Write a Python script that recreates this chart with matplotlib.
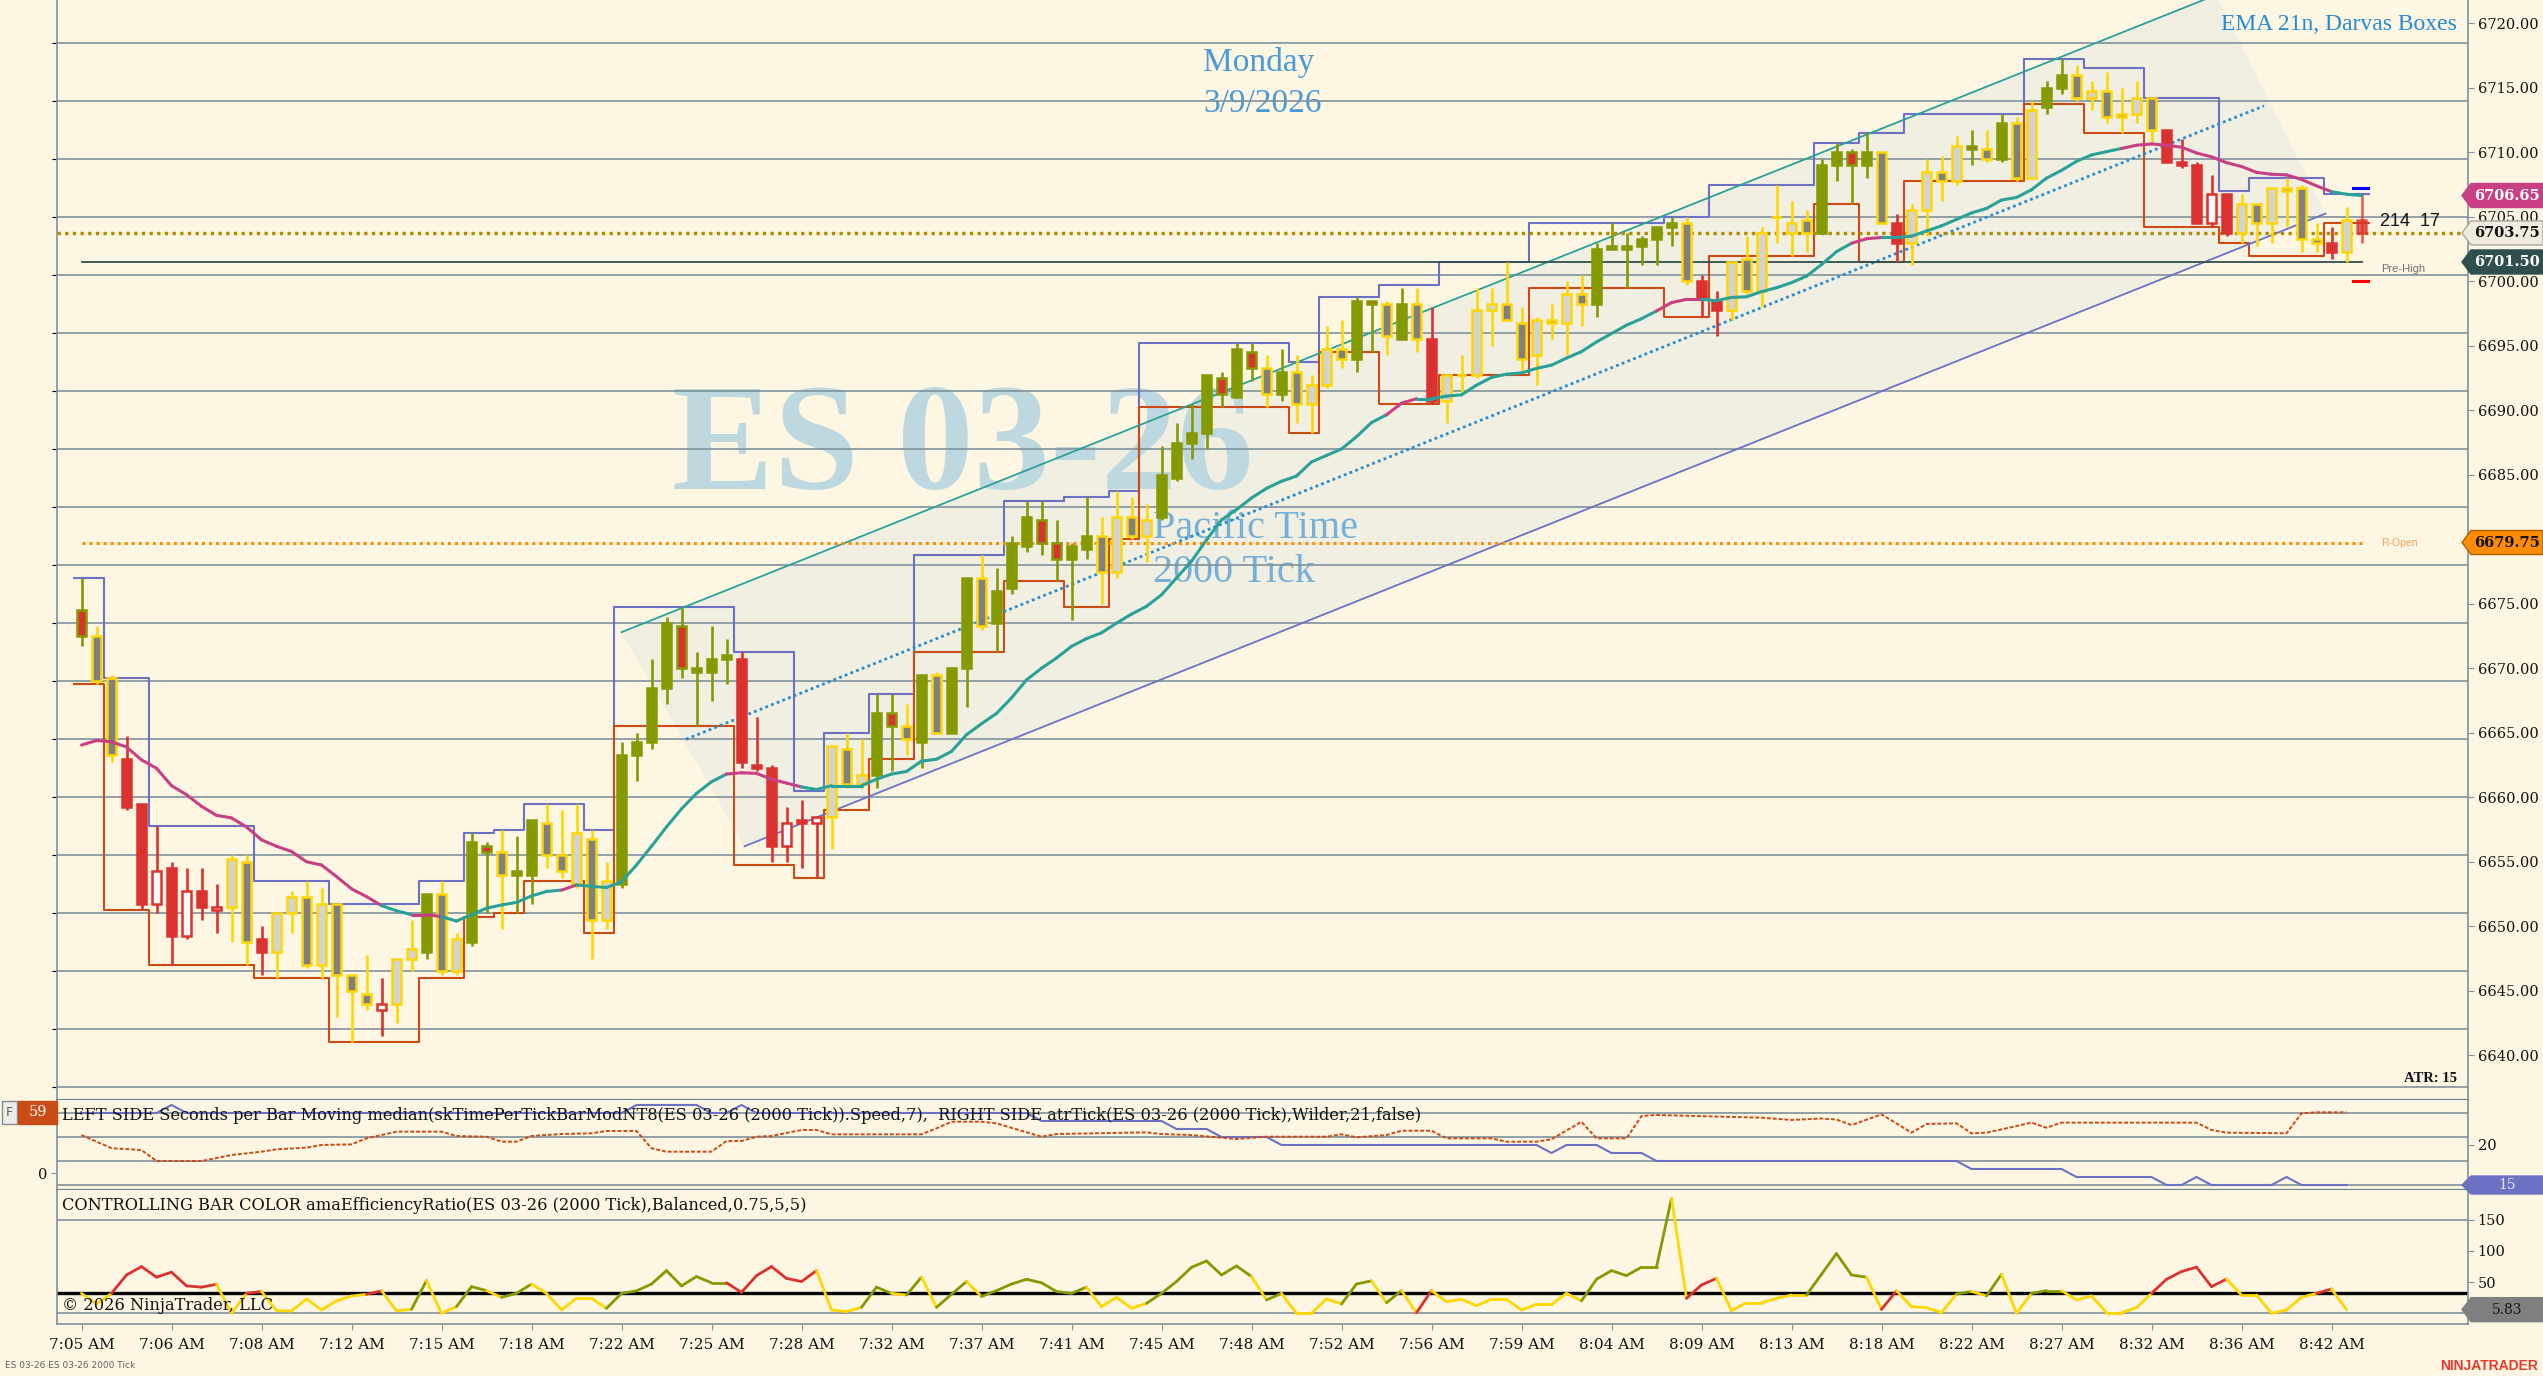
import matplotlib
matplotlib.use('Agg')
import matplotlib.pyplot as plt
import matplotlib.transforms as mtransforms
from matplotlib.patches import Rectangle, Polygon
from matplotlib.collections import LineCollection
from matplotlib.ticker import MultipleLocator

plt.rcParams['font.family'] = ['DejaVu Serif', 'DejaVu Sans']

# ---------------------------------------------------------------- data
time_labels = ['7:05 AM', '7:06 AM', '7:08 AM', '7:12 AM', '7:15 AM', '7:18 AM', '7:22 AM',
               '7:25 AM', '7:28 AM', '7:32 AM', '7:37 AM', '7:41 AM', '7:45 AM', '7:48 AM',
               '7:52 AM', '7:56 AM', '7:59 AM', '8:04 AM', '8:09 AM', '8:13 AM', '8:18 AM',
               '8:22 AM', '8:27 AM', '8:32 AM', '8:36 AM', '8:42 AM']
time_label_bars = [0, 6, 12, 18, 24, 30, 36, 42, 48, 54, 60, 66, 72, 78, 84, 90, 96, 102,
                   108, 114, 120, 126, 132, 138, 144, 150]

opens = [6674.5, 6672.5, 6669.25, 6663.0, 6659.5, 6651.75, 6654.5, 6649.25, 6652.75, 6651.25,
         6651.5, 6655.0, 6649.0, 6648.0, 6651.0, 6652.25, 6647.0, 6651.75, 6646.25, 6644.75,
         6643.5, 6644.0, 6647.5, 6648.0, 6652.5, 6646.5, 6648.75, 6656.25, 6655.75, 6654.0,
         6654.0, 6658.0, 6655.5, 6653.25, 6656.75, 6650.5, 6653.25, 6663.25, 6664.25, 6668.5,
         6673.25, 6669.75, 6669.75, 6670.75, 6670.75, 6662.5, 6662.25, 6656.25, 6658.25, 6658.0,
         6658.5, 6663.75, 6661.0, 6661.75, 6666.5, 6665.5, 6664.25, 6669.5, 6665.0, 6670.0,
         6677.0, 6673.5, 6676.25, 6679.5, 6681.5, 6679.75, 6678.5, 6679.25, 6680.25, 6677.5,
         6681.75, 6680.25, 6681.75, 6684.75, 6687.5, 6688.25, 6692.5, 6691.0, 6694.5, 6693.25,
         6691.25, 6693.0, 6690.5, 6692.0, 6694.75, 6694.0, 6698.5, 6698.25, 6695.5, 6698.25,
         6695.5, 6690.75, 6692.75, 6692.75, 6697.75, 6698.25, 6696.75, 6694.25, 6697.0, 6696.75,
         6699.0, 6698.25, 6702.5, 6702.5, 6702.75, 6703.25, 6704.25, 6704.5, 6700.0, 6698.5,
         6697.75, 6701.75, 6699.25, 6705.0, 6703.75, 6704.75, 6703.75, 6709.0, 6710.0, 6709.0,
         6710.0, 6704.5, 6703.0, 6705.5, 6708.5, 6707.75, 6710.5, 6710.25, 6709.5, 6712.25,
         6708.0, 6713.5, 6715.0, 6716.0, 6714.25, 6714.75, 6713.0, 6713.0, 6714.25, 6711.75,
         6709.25, 6709.0, 6704.5, 6706.75, 6703.75, 6706.0, 6704.5, 6707.25, 6707.25, 6703.25,
         6703.0, 6702.25, 6704.75]
highs = [6677.0, 6673.25, 6669.5, 6664.75, 6659.5, 6657.75, 6655.0, 6654.5, 6654.5, 6653.25,
         6655.5, 6655.5, 6650.0, 6651.0, 6652.75, 6653.5, 6653.0, 6651.75, 6646.25, 6647.75,
         6646.0, 6647.5, 6650.5, 6652.5, 6653.5, 6649.5, 6657.25, 6656.5, 6657.5, 6657.0,
         6658.25, 6659.5, 6659.0, 6659.5, 6657.5, 6655.0, 6664.25, 6665.0, 6670.75, 6674.0,
         6674.75, 6671.25, 6673.25, 6672.25, 6671.25, 6666.25, 6662.5, 6659.25, 6659.75, 6658.5,
         6664.0, 6665.0, 6664.5, 6668.0, 6668.0, 6667.25, 6669.5, 6669.75, 6670.0, 6677.0,
         6678.75, 6677.75, 6680.25, 6683.0, 6683.0, 6681.5, 6679.75, 6683.25, 6681.75, 6683.75,
         6683.25, 6682.75, 6687.25, 6689.0, 6690.5, 6692.75, 6693.0, 6695.25, 6695.25, 6694.25,
         6694.75, 6694.25, 6692.75, 6696.5, 6697.0, 6698.75, 6698.5, 6698.5, 6699.5, 6699.5,
         6698.0, 6692.75, 6694.25, 6699.5, 6699.5, 6701.5, 6698.0, 6697.25, 6698.25, 6700.0,
         6700.5, 6703.0, 6704.5, 6703.75, 6703.5, 6704.25, 6705.0, 6705.0, 6700.5, 6699.25,
         6701.5, 6703.5, 6704.25, 6707.5, 6706.25, 6705.5, 6709.5, 6710.75, 6710.25, 6711.5,
         6710.0, 6705.25, 6706.0, 6709.5, 6709.75, 6711.25, 6711.75, 6711.75, 6713.0, 6712.75,
         6714.0, 6715.5, 6717.25, 6716.75, 6715.5, 6716.25, 6715.0, 6715.5, 6714.25, 6711.75,
         6711.0, 6709.25, 6708.25, 6706.75, 6706.75, 6706.0, 6707.25, 6708.0, 6707.5, 6704.5,
         6704.25, 6705.75, 6706.75]
lows = [6671.75, 6668.75, 6662.75, 6659.0, 6651.25, 6651.0, 6647.0, 6649.0, 6650.5, 6649.5,
        6648.75, 6647.0, 6646.25, 6646.0, 6649.5, 6646.75, 6646.0, 6643.0, 6641.0, 6643.5,
        6641.5, 6642.5, 6646.5, 6647.5, 6646.25, 6646.25, 6648.5, 6651.0, 6649.75, 6651.0,
        6651.75, 6654.5, 6653.75, 6653.0, 6647.5, 6649.75, 6653.0, 6661.25, 6663.75, 6667.25,
        6669.25, 6665.5, 6667.5, 6668.75, 6662.25, 6662.0, 6655.0, 6655.0, 6654.5, 6653.75,
        6656.0, 6660.75, 6660.75, 6660.75, 6662.0, 6663.25, 6662.25, 6665.0, 6665.0, 6667.0,
        6673.0, 6671.25, 6675.75, 6679.0, 6678.75, 6676.75, 6673.75, 6678.5, 6675.0, 6677.0,
        6680.0, 6678.25, 6681.5, 6684.5, 6686.25, 6687.0, 6690.25, 6691.0, 6692.25, 6690.25,
        6690.75, 6689.0, 6688.25, 6691.75, 6693.25, 6693.0, 6694.5, 6694.25, 6695.5, 6694.5,
        6690.5, 6689.0, 6691.25, 6692.5, 6695.0, 6697.0, 6693.0, 6692.0, 6695.5, 6694.25,
        6696.5, 6697.25, 6702.5, 6699.5, 6701.25, 6701.25, 6702.75, 6699.75, 6697.25, 6695.75,
        6697.0, 6699.0, 6698.0, 6703.0, 6702.0, 6702.25, 6703.75, 6707.75, 6706.0, 6708.0,
        6704.5, 6701.5, 6701.25, 6703.5, 6706.25, 6707.5, 6709.0, 6709.25, 6709.25, 6707.75,
        6708.0, 6713.0, 6714.5, 6714.0, 6713.25, 6712.25, 6711.5, 6712.25, 6710.75, 6709.25,
        6708.75, 6704.5, 6704.25, 6703.5, 6703.0, 6702.75, 6703.0, 6704.25, 6702.25, 6702.25,
        6701.75, 6701.5, 6703.0]
closes = [6672.5, 6669.0, 6663.25, 6659.25, 6651.75, 6654.25, 6649.25, 6652.75, 6651.5, 6651.5,
          6655.25, 6648.75, 6648.0, 6651.0, 6652.25, 6647.0, 6651.75, 6646.25, 6645.0, 6644.0,
          6644.0, 6647.5, 6648.25, 6652.5, 6646.5, 6649.0, 6656.5, 6655.75, 6654.0, 6654.25,
          6658.25, 6655.5, 6654.25, 6657.25, 6650.5, 6653.5, 6663.25, 6664.25, 6668.5, 6673.5,
          6670.0, 6670.0, 6670.75, 6671.0, 6662.75, 6662.25, 6656.25, 6658.0, 6658.0, 6658.5,
          6664.0, 6661.0, 6661.75, 6666.5, 6665.5, 6664.5, 6669.5, 6665.0, 6670.0, 6677.0,
          6673.25, 6676.0, 6679.75, 6681.75, 6679.75, 6678.5, 6679.5, 6680.25, 6677.5, 6681.75,
          6680.25, 6681.5, 6685.0, 6687.5, 6688.25, 6692.75, 6691.25, 6694.75, 6693.25, 6691.25,
          6693.0, 6690.5, 6692.0, 6694.75, 6694.0, 6698.5, 6698.25, 6695.75, 6698.25, 6695.5,
          6690.75, 6692.75, 6692.75, 6697.75, 6698.25, 6697.0, 6694.0, 6697.0, 6696.75, 6699.0,
          6698.25, 6702.5, 6702.75, 6702.75, 6703.25, 6704.25, 6704.5, 6700.0, 6698.75, 6697.75,
          6701.5, 6699.25, 6703.75, 6705.0, 6704.5, 6703.75, 6709.0, 6710.0, 6709.0, 6710.0,
          6704.5, 6703.0, 6705.5, 6708.5, 6707.75, 6710.5, 6710.25, 6709.5, 6712.25, 6708.0,
          6713.25, 6715.0, 6716.0, 6714.25, 6714.75, 6712.75, 6712.75, 6714.25, 6711.75, 6709.25,
          6709.0, 6704.5, 6706.75, 6703.75, 6706.0, 6704.5, 6707.25, 6707.0, 6703.25, 6703.0,
          6702.25, 6704.75, 6703.75]
# efficiency-ratio trend class of every bar: G = up trend, R = down trend, Y = neutral
bar_class = list(("G YY RRRRRRR YY R YYYYYYY R YY G YY GG Y GG YYYYY GGGGGGGG RRRRRR YYY GG Y G Y "
                  "GG Y GGGGGGG YYYY GGGGGGG Y G YYYY GG Y G Y R YYYYYYYYYY GGGGGG Y RR YYYYYY "
                  "GGGG Y R YYYY G Y G YY GG YYYYYY RRRRR YYYYYY R Y R").replace(' ', ''))

ema21 = [6664.05, 6664.4, 6664.3, 6663.9, 6662.9, 6662.25, 6660.9, 6660.2, 6659.3, 6658.6,
         6658.4, 6657.7, 6656.7, 6656.2, 6655.8, 6655.0, 6654.75, 6653.85, 6652.9, 6652.3,
         6651.6, 6651.2, 6650.9, 6650.9, 6650.75, 6650.4, 6650.9, 6651.4, 6651.65, 6651.85,
         6652.35, 6652.7, 6652.8, 6653.2, 6653.1, 6653.0, 6653.45, 6654.75, 6656.2, 6657.7,
         6659.1, 6660.3, 6661.2, 6661.8, 6661.9, 6661.85, 6661.4, 6661.1, 6660.8, 6660.6,
         6660.9, 6660.9, 6660.9, 6661.4, 6661.8, 6662.0, 6662.8, 6662.95, 6663.55, 6664.85,
         6665.7, 6666.5, 6667.7, 6669.1, 6670.0, 6670.8, 6671.7, 6672.3, 6672.75, 6673.5,
         6674.2, 6674.8, 6675.7, 6677.0, 6678.3, 6679.95, 6681.5, 6682.3, 6683.2, 6683.95,
         6684.5, 6684.9, 6686.0, 6686.5, 6687.0, 6687.95, 6689.05, 6689.65, 6690.55, 6690.9,
         6690.9, 6691.1, 6691.2, 6691.95, 6692.55, 6692.8, 6692.9, 6693.25, 6693.5, 6694.05,
         6694.55, 6695.3, 6695.95, 6696.6, 6697.1, 6697.7, 6698.35, 6698.6, 6698.6, 6698.5,
         6698.75, 6698.8, 6699.2, 6699.5, 6699.9, 6700.4, 6701.3, 6702.3, 6702.95, 6703.3,
         6703.4, 6703.4, 6703.5, 6703.9, 6704.3, 6704.8, 6705.3, 6705.65, 6706.3, 6706.5,
         6707.1, 6708.0, 6708.6, 6709.3, 6709.8, 6710.05, 6710.3, 6710.55, 6710.65, 6710.55,
         6710.4, 6709.95, 6709.65, 6709.2, 6708.9, 6708.45, 6708.3, 6708.25, 6707.9, 6707.4,
         6706.95, 6706.75, 6706.65]
ema_dir = list(("ddddddddddddddddddddd uu dd uuuuuuuu d uuuuuuuuuu ddddd "
                "uuuuuuuuuuuuuuuuuuuuuuuuuuuuuuuuuuuuuuu dd uuuuuuuuuuuuuuuu ddd "
                "uuuuuuuuuu dd uuuuuuuuuuuuuuuu dddddddddddddd uu").replace(' ', ''))

# Darvas boxes: first bar, top, bottom
box_start = [0, 2, 5, 12, 17, 23, 26, 28, 30, 34, 36, 44, 48, 50, 53, 56, 62, 66, 69, 71,
             81, 83, 87, 91, 97, 106, 109, 116, 119, 122, 130, 134, 138, 143, 145, 150]
box_top = [6677.0, 6669.25, 6657.75, 6653.5, 6651.75, 6653.5, 6657.25, 6657.5, 6659.5, 6657.5,
           6674.75, 6671.25, 6660.5, 6665.0, 6668.0, 6678.75, 6683.0, 6683.25, 6683.75, 6695.25,
           6693.75, 6698.75, 6699.75, 6701.5, 6704.5, 6705.0, 6707.5, 6710.75, 6711.5, 6713.0,
           6717.25, 6716.5, 6714.25, 6707.0, 6708.0, 6706.75]
box_bottom = [6668.75, 6651.25, 6647.0, 6646.0, 6641.0, 6646.0, 6650.75, 6651.0, 6653.5, 6649.5,
              6665.5, 6654.75, 6653.75, 6659.0, 6663.0, 6671.25, 6676.75, 6674.75, 6680.0, 6690.25,
              6688.25, 6694.5, 6690.5, 6692.75, 6699.5, 6697.25, 6702.0, 6706.0, 6701.5, 6707.75,
              6713.75, 6711.5, 6704.25, 6703.0, 6702.0, 6704.5]

# regression channel end points (bar, price)
chan_upper = [(36.0, 6672.8), (142.3, 6722.2)]
chan_mid = [(40.3, 6664.5), (145.5, 6713.6)]
chan_lower = [(44.2, 6656.2), (149.6, 6705.25)]

r_open = 6679.75
pre_high = 6701.5
last_price = 6703.75
next_high, next_low = 6707.25, 6700.0
price_ticks = [6640, 6645, 6650, 6655, 6660, 6665, 6670, 6675, 6680, 6685,
               6690, 6695, 6700, 6705, 6710, 6715, 6720]

# seconds per bar (left scale), polyline vertices
sec_bars = [0, 2, 4, 5, 8, 10, 12, 13, 15, 16, 18, 19, 20, 21, 24, 25, 27, 28, 29, 30, 32, 34, 35,
            37, 38, 39, 42, 43, 44, 45, 46, 48, 49, 50, 56, 57, 58, 60, 61, 64, 65, 71, 72, 74, 77,
            79, 83, 84, 85, 87, 88, 90, 91, 94, 95, 97, 98, 100, 101, 103, 104, 105, 112, 114, 116,
            117, 118, 120, 122, 123, 125, 126, 127, 129, 130, 131, 132, 141, 142, 143, 147, 148,
            149, 151]
sec_vals = [36.7, 24, 22.2, 11.6, 11.6, 17.4, 20.6, 22.9, 24.5, 27.1, 27.7, 33.5, 36.7, 40, 40,
            35.8, 35.1, 30.3, 30.3, 35.8, 37.7, 38.4, 40.6, 40.6, 23.9, 20.6, 20.6, 30.9, 30.9,
            35.1, 35.8, 41.6, 41.6, 37.4, 37.4, 43.2, 49.6, 49.6, 48, 35.1, 37.7, 39.3, 37.7,
            36.7, 32.9, 35.1, 35.1, 37.4, 34.5, 36.7, 40.9, 40.9, 33.5, 33.5, 30.3, 30.3, 32.6,
            49.6, 33.5, 33.5, 55.1, 56.1, 53.5, 51.3, 52.7, 51.7, 46.4, 56.7, 39, 47.4, 48, 38.4,
            39, 45.4, 48.7, 43.8, 48.7, 48.7, 41.6, 39, 38.4, 57.7, 58.7, 58.7]
# atrTick per bar (right scale)
atr_tick = [24, 24, 24, 24, 24, 24, 25, 24, 24, 24, 24, 24, 24, 24, 24, 24, 24, 24, 24, 24,
            24, 24, 24, 24, 24, 24, 24, 24, 24, 24, 24, 24, 24, 24, 24, 24, 24, 25, 25, 25,
            25, 25, 24, 24, 25, 24, 24, 24, 24, 24, 24, 24, 24, 24, 24, 24, 24, 24, 24, 24,
            24, 24, 24, 24, 23, 23, 23, 23, 23, 23, 23, 23, 23, 22, 22, 22, 21, 21, 21, 21,
            20, 20, 20, 20, 20, 20, 20, 20, 20, 20, 20, 20, 20, 20, 20, 20, 20, 20, 19, 20,
            20, 20, 19, 19, 19, 18, 18, 18, 18, 18, 18, 18, 18, 18, 18, 18, 18, 18, 18, 18,
            18, 18, 18, 18, 18, 18, 17, 17, 17, 17, 17, 17, 17, 16, 16, 16, 16, 16, 16, 15,
            15, 16, 15, 15, 15, 15, 15, 16, 15, 15, 15, 15]
# efficiency ratio per bar
eff_ratio = [32, 15, 32, 61.5, 75, 58, 66, 44, 42, 46.5,
             0, 32, 35, 4.3, 3.7, 23, 5.4, 20, 27.8, 30.5,
             36, 4, 6.4, 52.4, 0, 10.7, 42.8, 36.4, 25.7, 32,
             47, 32, 5.4, 24, 24, 8, 32, 36, 47, 68.5,
             44, 59, 49, 49, 33.7, 60.5, 75, 56, 51, 68.5,
             5.4, 2.7, 9.6, 42, 32, 29.4, 58, 9.6, 30.5, 51,
             27, 36.4, 47, 54.6, 49, 35, 32, 42, 10.7, 25.7,
             8, 16, 32, 51, 73.8, 84, 61.5, 76, 59, 21.4,
             32, 0, 0, 23, 15, 47, 52, 17, 36.4, 1,
             36.4, 18.7, 22.5, 12.3, 22.5, 22.5, 5.4, 14.4, 14.4, 32,
             20, 54.6, 68.5, 60.5, 74, 74, 184.6, 24, 45.5, 56,
             4.3, 17, 17, 24, 29.4, 29.4, 62.6, 96, 61.5, 58,
             6.4, 36, 10.7, 9, 1, 31, 35, 28, 62.6, 0,
             32, 36.4, 36.4, 21.4, 28, 1, 1, 9, 32, 54.6,
             67, 74, 42.8, 55, 29.4, 29.4, 0, 5.4, 25.7, 32,
             39, 5.8]
eff_threshold = 32.1
seconds_now = 59
atr_now = 15
eff_now = 5.83
ema_now = 6706.65

# ---------------------------------------------------------------- style
W, H, DPI = 2543, 1376, 100
BG = '#fdf6e3'
GREEN, RED, GOLD = '#859900', '#dc322f', '#ffd700'
LGRAY, DGRAY = '#d3d3d3', '#808080'
TEAL, MAGENTA, VIOLET = '#2aa198', '#c93f84', '#6c71c4'
ORANGE, BLUE, DORANGE = '#cb4b16', '#268bd2', '#ff8c00'
GRID = '#7f929b'
DIV = '#6d7f88'
SERIF = ['DejaVu Serif']
TXT = 11.7

fig = plt.figure(figsize=(W / DPI, H / DPI), dpi=DPI)
fig.patch.set_facecolor(BG)
LPX, RPX = 57, 2468


def fy(ypx):
    return 1 - ypx / H


pos_w = (RPX - LPX) / W
ax = fig.add_axes([LPX / W, fy(1100), pos_w, 1100 / H])
ax2 = fig.add_axes([LPX / W, fy(1190), pos_w, 90 / H])
ax3 = fig.add_axes([LPX / W, fy(1324), pos_w, 134 / H])
XL = ((LPX - 81.5) / 15.0, (RPX - 81.5) / 15.0)
for a in (ax, ax2, ax3):
    a.set_facecolor(BG)
    a.set_xlim(*XL)
    a.set_autoscale_on(False)
    for s in ('top', 'left', 'right', 'bottom'):
        a.spines[s].set_color(GRID)
        a.spines[s].set_linewidth(1.2)
    a.spines['top'].set_visible(False)
    a.tick_params(axis='x', bottom=False, labelbottom=False)

ax.set_ylim(6636.53, 6721.81)
pix = mtransforms.Affine2D().scale(1.0 / W, -1.0 / H).translate(0, 1) + fig.transFigure
xpix = mtransforms.Affine2D().scale(1.0 / W, 1.0) + fig.transFigure

# grid
ax.yaxis.set_major_locator(MultipleLocator(4.5))
ax.tick_params(axis='y', left=False, labelleft=False)
ax.grid(True, axis='y', color=GRID, lw=1.2, zorder=0.5)
ax.set_axisbelow(True)
ax.spines['bottom'].set_color(DIV)
ax.spines['bottom'].set_linewidth(1.6)

# channel shading and big watermark
poly = Polygon([chan_upper[0], chan_upper[1], chan_lower[1], chan_lower[0]], closed=True,
               fc='#f0efe2', ec='none', zorder=0.3)
ax.add_patch(poly)
ax.text(672, 489, 'ES 03-26', transform=pix, fontsize=110, fontweight='bold',
        family=['Liberation Serif'], color='#bed8e0', va='baseline', ha='left', zorder=0.4)
ax.text(1153, 528, 'Pacific Time', transform=pix, fontsize=29, family=['Liberation Serif'],
        color='#6aa9d6', va='center', ha='left', zorder=0.4, alpha=0.9)
ax.text(1153, 573, '2000 Tick', transform=pix, fontsize=29, family=['Liberation Serif'],
        color='#6aa9d6', va='center', ha='left', zorder=0.4, alpha=0.9)
ax.text(1203, 63, 'Monday', transform=pix, fontsize=24, family=['Liberation Serif'],
        color='#4b9ad6', va='center', ha='left', zorder=0.4)
ax.text(1203, 104, '3/9/2026', transform=pix, fontsize=24, family=['Liberation Serif'],
        color='#4b9ad6', va='center', ha='left', zorder=0.4)

# Darvas boxes (step lines)
nb = len(opens)
bx, bt, bb = [], [], []
for k in range(len(box_start)):
    s = box_start[k] - 0.5
    e = (box_start[k + 1] - 0.5) if k + 1 < len(box_start) else nb - 0.5
    bx += [s, e]
    bt += [box_top[k], box_top[k]]
    bb += [box_bottom[k], box_bottom[k]]
ax.plot(bx, bt, color=VIOLET, lw=1.5, zorder=2)
ax.plot(bx, bb, color=ORANGE, lw=1.5, zorder=2)

# channel lines
ax.plot([p[0] for p in chan_upper], [p[1] for p in chan_upper], color=TEAL, lw=1.3, zorder=2.2)
ax.plot([p[0] for p in chan_lower], [p[1] for p in chan_lower], color=VIOLET, lw=1.3, zorder=2.2)
ax.plot([p[0] for p in chan_mid], [p[1] for p in chan_mid], color=BLUE, lw=2.0,
        linestyle=(0, (1, 1.2)), zorder=2.2)

# horizontal levels
ax.plot([0, nb - 1], [r_open, r_open], color=DORANGE, lw=2.2, linestyle=(0, (1, 1.3)), zorder=2.3)
ax.plot([0, nb - 1], [pre_high, pre_high], color='#2f4f4f', lw=1.3, zorder=2.3)
ax.axhline(last_price, color='#b58900', lw=2.4, linestyle=(0, (1, 1.3)), zorder=2.3)
ax.text(153.3, r_open, 'R-Open', fontsize=7.5, family=['Liberation Sans'], color='#f5a35c',
        va='center', ha='left', zorder=5)
ax.text(153.3, pre_high - 0.55, 'Pre-High', fontsize=8, family=['Liberation Sans'], color='#707070',
        va='center', ha='left', zorder=5)
ax.text(153.2, 6704.6, '214  17', fontsize=13, family=['Liberation Sans'], color='#111111',
        va='center', ha='left', zorder=5)
ax.plot([nb - 1.6, nb - 0.6], [next_high, next_high], color='#0000ff', lw=2.2, zorder=5)
ax.plot([nb - 1.6, nb - 0.6], [next_low, next_low], color='#ff0000', lw=2.2, zorder=5)

# candles
CW = 0.64
ccol = {'G': GREEN, 'Y': GOLD, 'R': RED}
up_fill = {'G': GREEN, 'Y': LGRAY, 'R': '#fbfbfb'}
dn_fill = {'G': RED, 'Y': DGRAY, 'R': RED}
for i in range(nb):
    o, h, l, c = opens[i], highs[i], lows[i], closes[i]
    k = bar_class[i]
    col = ccol[k]
    al = 0.75 if i == nb - 1 else 1.0
    ax.vlines(i, l, h, colors=col, lw=1.9, zorder=3, alpha=al)
    if c == o:
        ax.hlines(o, i - CW / 2, i + CW / 2, colors=col, lw=2.2, zorder=3.1, alpha=al)
        continue
    fc = up_fill[k] if c > o else dn_fill[k]
    ax.add_patch(Rectangle((i - CW / 2, min(o, c)), CW, abs(c - o), fc=fc, ec=col, lw=1.8,
                           zorder=3.1, alpha=al))

# EMA line coloured by direction
segs, cols = [], []
for i in range(1, len(ema21)):
    segs.append([(i - 1, ema21[i - 1]), (i, ema21[i])])
    d = ema_dir[i] if i < len(ema_dir) else 'u'
    cols.append(TEAL if d == 'u' else MAGENTA)
ax.add_collection(LineCollection(segs, colors=cols, linewidths=2.2, zorder=4, capstyle='round'))

# right price axis
axr = ax.twinx()
axr.set_ylim(ax.get_ylim())
axr.set_yticks(price_ticks)
axr.set_yticklabels(['%.2f' % p for p in price_ticks], family=SERIF, fontsize=10.5, color='#111111')
axr.tick_params(axis='y', length=4, color=GRID, pad=3)
for s in axr.spines.values():
    s.set_visible(False)


def tag(axis, yval, text, fc, tc, ec=None, hh_px=12, fs=10.5, weight='bold', x0=2462):
    tr = mtransforms.blended_transform_factory(xpix, axis.transData)
    y0, y1 = axis.get_ylim()
    hh = hh_px * (y1 - y0) / (axis.get_position().height * H)
    pts = [(x0, yval), (x0 + 9, yval + hh), (2543, yval + hh), (2543, yval - hh), (x0 + 9, yval - hh)]
    fig.add_artist(Polygon(pts, closed=True, fc=fc, ec=ec if ec else fc, lw=1.0, transform=tr,
                           zorder=10))
    fig.text((x0 + 9 + 2543) / 2.0, yval, text, transform=tr, ha='center', va='center',
             fontsize=fs, fontweight=weight, family=SERIF, color=tc, zorder=11)


tag(ax, ema_now, '%.2f' % ema_now, MAGENTA, 'white')
tag(ax, last_price, '%.2f' % last_price, '#f0ebdc', '#111111', ec='#a8a8a0')
tag(ax, pre_high, '%.2f' % pre_high, '#2f4f4f', 'white')
tag(ax, r_open, '%.2f' % r_open, DORANGE, '#111111', ec='#b06000')

fig.text(2457 / W, fy(25), 'EMA 21n, Darvas Boxes', ha='right', va='center', fontsize=17,
         family=['Liberation Serif'], color=BLUE)
fig.text(2457 / W, fy(1078), 'ATR: 15', ha='right', va='center', fontsize=10.5, fontweight='bold',
         family=['Liberation Serif'], color='#111111')

# ---------------------------------------------------------------- panel 2
ax2.set_ylim(14.375, 25.625)
for v in (15, 18, 21, 24):
    ax2.axhline(v, color=GRID, lw=1.2, zorder=0.5)
ax2.plot(range(len(atr_tick)), atr_tick, color=VIOLET, lw=1.5, zorder=2)
ax2.spines['bottom'].set_color(DIV)
ax2.spines['bottom'].set_linewidth(1.6)
ax2l = ax2.twinx()
ax2l.set_ylim(-16.44, 70.6)
ax2l.set_xlim(*XL)
ax2l.plot(sec_bars, sec_vals, color=ORANGE, lw=1.4, linestyle=(0, (2, 1)), zorder=3)
for s in ax2l.spines.values():
    s.set_visible(False)
# right scale (atrTick) on ax2, left scale (seconds) on the twin
ax2.yaxis.set_ticks_position('right')
ax2.yaxis.set_label_position('right')
ax2.set_yticks([20])
ax2.set_yticklabels(['20'], family=SERIF, fontsize=10.5, color='#111111')
ax2.tick_params(axis='y', left=False, labelleft=False, right=True, labelright=True,
                length=4, color=GRID, pad=3)
ax2l.yaxis.set_ticks_position('left')
ax2l.yaxis.set_label_position('left')
ax2l.set_yticks([0])
ax2l.set_yticklabels(['0'], family=SERIF, fontsize=10.5, color='#111111')
ax2l.tick_params(axis='y', left=True, labelleft=True, right=False, labelright=False,
                 length=4, color=GRID, pad=3)
tag(ax2, atr_now, '%d' % atr_now, VIOLET, '#e8e8ff', fs=10, weight='normal', hh_px=9)
fig.text(62 / W, fy(1116), 'LEFT SIDE Seconds per Bar Moving median(skTimePerTickBarModNT8(ES 03-26 '
         '(2000 Tick)).Speed,7),  RIGHT SIDE atrTick(ES 03-26 (2000 Tick),Wilder,21,false)',
         ha='left', va='center', fontsize=TXT, family=SERIF, color='#111111', zorder=12)
# F / 59 boxes at top-left
fig.add_artist(Rectangle((2, 1101), 15, 23, transform=pix, fc='#ececec', ec='#8c8c8c', lw=1, zorder=10))
fig.text(9.5 / W, fy(1112.5), 'F', ha='center', va='center', fontsize=9, family=['DejaVu Sans'],
         color='#606060', zorder=11)
fig.add_artist(Rectangle((18, 1101), 39, 23, transform=pix, fc=ORANGE, ec=ORANGE, lw=1, zorder=10))
fig.text(37.5 / W, fy(1112.5), '%d' % seconds_now, ha='center', va='center', fontsize=10.5,
         family=SERIF, color='white', zorder=11)

# ---------------------------------------------------------------- panel 3
ax3.set_ylim(-17.17, 197.9)
ax3.axhline(0, color=GRID, lw=1.2, zorder=0.5)
ax3.axhline(150, color=GRID, lw=1.2, zorder=0.5)
ax3.axhline(eff_threshold, color='black', lw=2.4, zorder=1)
esegs, ecols = [], []
for i in range(1, len(eff_ratio)):
    esegs.append([(i - 1, eff_ratio[i - 1]), (i, eff_ratio[i])])
    ecols.append({'G': GREEN, 'Y': GOLD, 'R': RED}[bar_class[i]])
ax3.add_collection(LineCollection(esegs, colors=ecols, linewidths=2.0, zorder=2, capstyle='round'))
ax3.yaxis.tick_right()
ax3.set_yticks([50, 100, 150])
ax3.set_yticklabels(['50', '100', '150'], family=SERIF, fontsize=10.5, color='#111111')
ax3.tick_params(axis='y', length=4, color=GRID, pad=3)
ax3.tick_params(axis='x', bottom=True, labelbottom=True, length=4, color=GRID, pad=6)
ax3.set_xticks(time_label_bars)
ax3.set_xticklabels(time_labels, family=SERIF, fontsize=11, color='#111111')
tag(ax3, eff_now, '%.2f' % eff_now, '#7f7f7f', '#1a1a1a', fs=10, weight='normal', hh_px=12)
fig.text(62 / W, fy(1206), 'CONTROLLING BAR COLOR amaEfficiencyRatio(ES 03-26 (2000 Tick),'
         'Balanced,0.75,5,5)', ha='left', va='center', fontsize=TXT, family=SERIF,
         color='#111111', zorder=12)
fig.text(62 / W, fy(1306), '\u00a9 2026 NinjaTrader, LLC', ha='left', va='center', fontsize=TXT,
         family=SERIF, color='#111111', zorder=12)

fig.text(5 / W, fy(1365), 'ES 03-26 ES 03-26 2000 Tick', ha='left', va='center', fontsize=6.5,
         family=['DejaVu Sans'], color='#606060')
fig.text(2538 / W, fy(1366), 'NINJATRADER', ha='right', va='center', fontsize=10, fontweight='bold',
         family=['Liberation Sans'], color='#e8392c')

fig.savefig('out.png', dpi=DPI, facecolor=BG)
